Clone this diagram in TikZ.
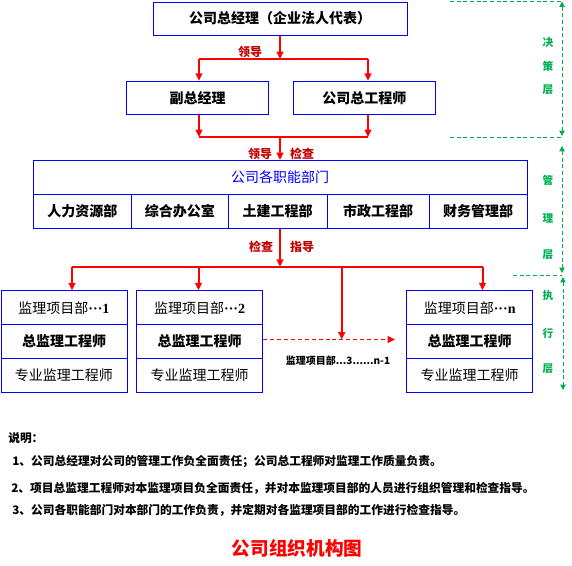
\documentclass[tikz,border=0pt]{standalone}
\usepackage{fontspec}
\setmainfont{Noto Sans CJK SC}
\newfontfamily\latinfont{Liberation Serif}
\usetikzlibrary{arrows.meta}
\newcommand\pxu{0.75pt}
\definecolor{lineblue}{RGB}{0,0,255}
\definecolor{linered}{RGB}{255,0,0}
\definecolor{labred}{RGB}{192,0,0}
\definecolor{layergreen}{RGB}{0,176,80}
\tikzset{
  box/.style={draw=lineblue,line width=0.75pt,inner sep=0pt,font=\fontsize{10.5}{12}\selectfont\bfseries},
  plainbox/.style={box,font=\fontsize{10.5}{12}\selectfont},
  redline/.style={draw=linered,line width=1.5pt},
  redtip/.style={-{Triangle[length=5.5pt,width=5pt]}},
  lab/.style={text=labred,font=\fontsize{9}{10}\selectfont\bfseries,inner sep=0pt},
  layerline/.style={draw=layergreen,line width=0.75pt,dash pattern=on 3pt off 2pt},
  layertip/.style={{Triangle[length=4pt,width=4pt]}-{Triangle[length=4pt,width=4pt]}},
  layerlab/.style={text=layergreen,font=\fontsize{8}{9}\selectfont\bfseries,inner sep=0pt},
  note/.style={anchor=west,inner sep=0pt,font=\fontsize{8.8}{10}\selectfont\bfseries}
}
\begin{document}
\begin{tikzpicture}[x=0.75pt,y=-0.75pt]
  \useasboundingbox (0,0) rectangle (572,565);
  \node[box,minimum width=254*\pxu,minimum height=33*\pxu] (gm) at (280,18.5) {公司总经理（企业法人代表）};
  \node[box,minimum width=142*\pxu,minimum height=33*\pxu] (vgm) at (197.5,97.7) {副总经理};
  \node[box,minimum width=142*\pxu,minimum height=33*\pxu] (ce) at (364.3,97.7) {公司总工程师};
  \node[plainbox,text=lineblue,minimum width=494*\pxu,minimum height=33.5*\pxu] (dept) at (280.2,177.3) {公司各职能部门};
  \node[box,minimum width=98*\pxu,minimum height=34.3*\pxu] (hr) at (82.3,211.2) {人力资源部};
  \node[box,minimum width=97*\pxu,minimum height=34.3*\pxu] (office) at (179.8,211.2) {综合办公室};
  \node[box,minimum width=98.7*\pxu,minimum height=34.3*\pxu] (civil) at (277.65,211.2) {土建工程部};
  \node[box,minimum width=102*\pxu,minimum height=34.3*\pxu] (muni) at (378,211.2) {市政工程部};
  \node[box,minimum width=98*\pxu,minimum height=34.3*\pxu] (fin) at (478,211.2) {财务管理部};

  \node[plainbox,minimum width=126*\pxu,minimum height=33.8*\pxu] (p1a) at (64,307.7) {监理项目部{\latinfont\bfseries ···1}};
  \node[box,minimum width=126*\pxu,minimum height=33.8*\pxu] (p1b) at (64,341.5) {总监理工程师};
  \node[plainbox,minimum width=126*\pxu,minimum height=33.8*\pxu] (p1c) at (64,375.3) {专业监理工程师};
  \node[plainbox,minimum width=126*\pxu,minimum height=33.8*\pxu] (p2a) at (199.6,307.7) {监理项目部{\latinfont\bfseries ···2}};
  \node[box,minimum width=126*\pxu,minimum height=33.8*\pxu] (p2b) at (199.6,341.5) {总监理工程师};
  \node[plainbox,minimum width=126*\pxu,minimum height=33.8*\pxu] (p2c) at (199.6,375.3) {专业监理工程师};
  \node[plainbox,minimum width=126*\pxu,minimum height=33.8*\pxu] (pna) at (469.7,307.7) {监理项目部{\latinfont\bfseries ···n}};
  \node[box,minimum width=126*\pxu,minimum height=33.8*\pxu] (pnb) at (469.7,341.5) {总监理工程师};
  \node[plainbox,minimum width=126*\pxu,minimum height=33.8*\pxu] (pnc) at (469.7,375.3) {专业监理工程师};
  \node[inner sep=0pt,font=\fontsize{7.5}{9}\selectfont\bfseries] (pmid) at (338,361) {监理项目部...3......n-1};

  \coordinate (j1l) at (199,59);
  \coordinate (j1r) at (368,59);
  \draw[redline,redtip] (gm.south) -- (gm.south |- j1l);
  \draw[redline] (j1l) -- (j1r);
  \draw[redline,redtip] (j1l) -- (j1l |- vgm.north);
  \draw[redline,redtip] (j1r) -- (j1r |- ce.north);
  \node[lab] (lead1) at (250,51.7) {领导};

  \coordinate (j2l) at (199,137);
  \coordinate (j2r) at (368,137);
  \coordinate (j2) at (280,137);
  \draw[redline,redtip] (j2l |- vgm.south) -- (j2l);
  \draw[redline,redtip] (j2r |- ce.south) -- (j2r);
  \draw[redline] (j2l) -- (j2r);
  \draw[redline,redtip] (j2) -- (j2 |- dept.north);
  \node[lab] (lead2) at (260,154) {领导};
  \node[lab] (check2) at (302,154) {检查};

  \coordinate (j3) at (280,266.7);
  \coordinate (j3a) at (72,266.7);
  \coordinate (j3b) at (198.5,266.7);
  \coordinate (j3c) at (341.7,266.7);
  \coordinate (j3d) at (482.5,266.7);
  \coordinate (dend) at (395,339.5);
  \draw[redline,redtip] (j3 |- civil.south) -- (j3);
  \draw[redline] (j3a) -- (j3d);
  \draw[redline,redtip] (j3a) -- (j3a |- p1a.north);
  \draw[redline,redtip] (j3b) -- (j3b |- p2a.north);
  \draw[redline,redtip] (j3c) -- (j3c |- dend);
  \draw[redline,redtip] (j3d) -- (j3d |- pna.north);
  \draw[redline,line width=1.3pt,dash pattern=on 3pt off 2.2pt,redtip] (p2b.east |- dend) -- (dend);
  \node[lab] (check3) at (261,247) {检查};
  \node[lab] (guide3) at (302,247) {指导};

  \coordinate (g1) at (450,1.5);
  \coordinate (g2) at (450,137);
  \coordinate (g3) at (513,275);
  \draw[layerline] (g1) -- (562,1.5);
  \draw[layerline] (g2) -- (562,137);
  \draw[layerline] (g3) -- (562,275);
  \coordinate (a1t) at (562,1.5);
  \coordinate (a1b) at (562,136);
  \coordinate (a2t) at (562,146);
  \coordinate (a2b) at (562,273);
  \coordinate (a3t) at (563,277);
  \coordinate (a3b) at (563,390);
  \draw[layerline,layertip] (a1t) -- (a1b);
  \draw[layerline,layertip] (a2t) -- (a2b);
  \draw[layerline,layertip] (a3t) -- (a3b);
  \node[layerlab] (l1a) at (548,42) {决};
  \node[layerlab] (l1b) at (548,66) {策};
  \node[layerlab] (l1c) at (548,90) {层};
  \node[layerlab] (l2a) at (548,180) {管};
  \node[layerlab] (l2b) at (548,218) {理};
  \node[layerlab] (l2c) at (548,255) {层};
  \node[layerlab] (l3a) at (548,295) {执};
  \node[layerlab] (l3b) at (548,333) {行};
  \node[layerlab] (l3c) at (548,369) {层};

  \node[note] (n0) at (8,438) {说明：};
  \node[note] (n1) at (12,461.7) {1、公司总经理对公司的管理工作负全面责任；公司总工程师对监理工作质量负责。};
  \node[note] (n2) at (11,488) {2、项目总监理工程师对本监理项目负全面责任，并对本监理项目部的人员进行组织管理和检查指导。};
  \node[note] (n3) at (12,510) {3、公司各职能部门对本部门的工作负责，并定期对各监理项目部的工作进行检查指导。};
  \node[inner sep=0pt,text=linered,font=\fontsize{14}{16}\selectfont\bfseries] (title) at (297,548) {公司组织机构图};
\end{tikzpicture}
\end{document}
